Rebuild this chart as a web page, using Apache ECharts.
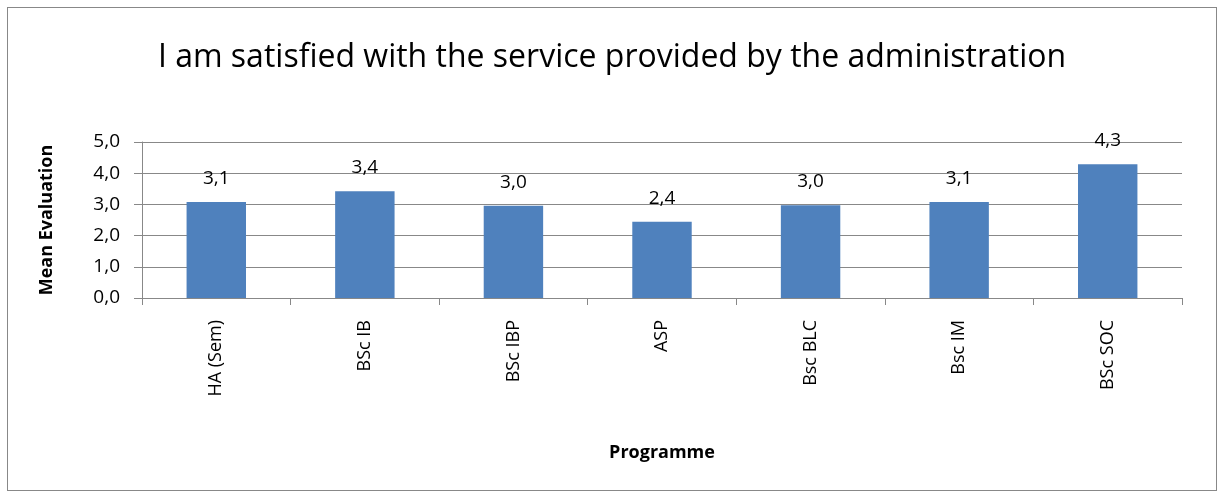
<!DOCTYPE html>
<html>
<head>
<meta charset="utf-8">
<script src="https://cdn.jsdelivr.net/npm/echarts@6/dist/echarts.min.js"></script>
<style>
  html, body { margin: 0; padding: 0; background: #fff; }
  #frame { position: absolute; left: 7px; top: 7px; width: 1208px; height: 482px; border: 1px solid #888; }
  #chart { width: 1224px; height: 495px; }
</style>
</head>
<body>
<div id="frame"></div>
<div id="chart"></div>
<script>
var categories = ['HA (Sem)', 'BSc IB', 'BSc IBP', 'ASP', 'Bsc BLC', 'Bsc IM', 'BSc SOC']
var meanValues = [3.08, 3.42, 2.96, 2.44, 2.97, 3.08, 4.29]
var yTicks = [0, 1, 2, 3, 4, 5]

var font = '"Open Sans", "Noto Sans", sans-serif'
var chart = echarts.init(document.getElementById('chart'))
chart.setOption({
  animation: false,
  title: {
    text: 'I am satisfied with the service provided by the administration',
    left: 'center',
    top: 37,
    textStyle: { fontFamily: font, fontWeight: 'normal', fontSize: 32, color: '#000' }
  },
  grid: { left: 142, right: 42, top: 142, bottom: 197, containLabel: false },
  xAxis: {
    type: 'category',
    data: categories,
    name: 'Programme',
    nameLocation: 'middle',
    nameGap: 146,
    nameTextStyle: { fontFamily: font, fontWeight: 'bold', fontSize: 18, color: '#000' },
    axisLine: { lineStyle: { color: '#888' } },
    axisTick: { show: true, length: 7, lineStyle: { color: '#888' } },
    axisLabel: { rotate: 90, margin: 22, fontFamily: font, fontSize: 18, color: '#000' }
  },
  yAxis: {
    type: 'value',
    min: yTicks[0],
    max: yTicks[yTicks.length - 1],
    interval: 1,
    name: 'Mean Evaluation',
    nameLocation: 'middle',
    nameGap: 86,
    nameTextStyle: { fontFamily: font, fontWeight: 'bold', fontSize: 18, color: '#000' },
    axisLine: { show: true, lineStyle: { color: '#888' } },
    axisTick: { show: true, length: 8, lineStyle: { color: '#888' } },
    splitLine: { lineStyle: { color: '#888', width: 1 } },
    axisLabel: {
      margin: 22,
      fontFamily: font, fontSize: 19, color: '#000',
      formatter: function (v) { return v.toFixed(1).replace('.', ',') }
    }
  },
  series: [{
    type: 'bar',
    data: meanValues,
    barWidth: '40%',
    itemStyle: { color: '#4f81bd' },
    label: {
      show: true,
      position: 'top',
      distance: 14,
      fontFamily: font, fontSize: 19, color: '#000',
      formatter: function (p) { return p.value.toFixed(1).replace('.', ',') }
    }
  }]
})
</script>
</body>
</html>
